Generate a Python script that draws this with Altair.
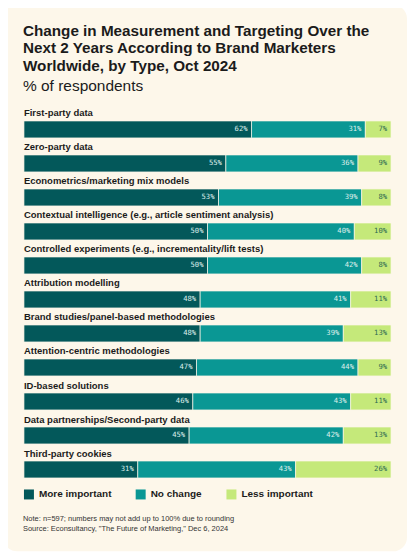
import altair as alt
import pandas as pd

categories = [
    "First-party data",
    "Zero-party data",
    "Econometrics/marketing mix models",
    "Contextual intelligence (e.g., article sentiment analysis)",
    "Controlled experiments (e.g., incrementality/lift tests)",
    "Attribution modelling",
    "Brand studies/panel-based methodologies",
    "Attention-centric methodologies",
    "ID-based solutions",
    "Data partnerships/Second-party data",
    "Third-party cookies",
]
more_important = [62, 55, 53, 50, 50, 48, 48, 47, 46, 45, 31]
no_change = [31, 36, 39, 40, 42, 41, 39, 44, 43, 42, 43]
less_important = [7, 9, 8, 10, 8, 11, 13, 9, 11, 13, 26]
types = ["More important", "No change", "Less important"]
colors = ["#03585A", "#0A9794", "#C5E97A"]

title_lines = [
    "Change in Measurement and Targeting Over the",
    "Next 2 Years According to Brand Marketers",
    "Worldwide, by Type, Oct 2024",
]
subtitle = "% of respondents"
note_lines = [
    "Note: n=597; numbers may not add up to 100% due to rounding",
    'Source: Econsultancy, "The Future of Marketing," Dec 6, 2024',
]

rows = []
for i, c in enumerate(categories):
    for j, (t, vals) in enumerate(zip(types, [more_important, no_change, less_important])):
        rows.append({"category": c, "type": t, "value": vals[i], "order": j})
df = pd.DataFrame(rows)
cat_df = pd.DataFrame({"category": categories})
one = pd.DataFrame({"a": [0]})

CREAM = "#FDF7EA"
INK = "#1B1B1B"
W, H = 368, 375

yenc = alt.Y("category:N", sort=categories, axis=None,
             scale=alt.Scale(paddingInner=0, paddingOuter=0))
xscale = alt.Scale(domain=[0, 100], nice=False, zero=True)

card = alt.Chart(one).mark_rect(color=CREAM, cornerRadius=14).encode(
    x=alt.value(-21), x2=alt.value(W + 16),
    y=alt.value(-108), y2=alt.value(H + 65),
)

title = alt.Chart(one).mark_text(
    text=title_lines, align="left", baseline="alphabetic", font="Liberation Sans",
    fontSize=15.3, fontWeight="bold", lineHeight=17.5, color=INK,
).encode(x=alt.value(-1), y=alt.value(-77))

sub = alt.Chart(one).mark_text(
    text=subtitle, align="left", baseline="alphabetic", font="Liberation Sans",
    fontSize=15.5, color=INK,
).encode(x=alt.value(-1), y=alt.value(-21))

base = alt.Chart(df).transform_stack(
    stack="value", groupby=["category"], as_=["x0", "x1"],
    sort=[alt.SortField("order", order="ascending")],
).transform_calculate(label="datum.value + '%'")

bars = base.mark_bar(height=17, stroke=CREAM, strokeWidth=0.7).encode(
    x=alt.X("x0:Q", scale=xscale, axis=None),
    x2="x1:Q",
    y=yenc,
    color=alt.Color(
        "type:N", sort=types,
        scale=alt.Scale(domain=types, range=colors),
        legend=alt.Legend(
            title=None, orient="none", legendX=0, legendY=H + 3,
            direction="horizontal", symbolType="square", symbolSize=100,
            symbolStrokeWidth=0, symbolOpacity=1, labelFont="Liberation Sans",
            labelFontSize=10, labelFontWeight="bold", labelColor=INK,
            labelOffset=5, columnPadding=24, labelLimit=200,
        ),
    ),
    order=alt.Order("order:Q"),
)

seg_labels = base.mark_text(
    align="right", baseline="middle", dx=-4, font="DejaVu Sans Mono", fontSize=7.2
).encode(
    x=alt.X("x1:Q", scale=xscale),
    y=yenc,
    text="label:N",
    color=alt.condition(alt.datum.type == "Less important",
                        alt.value("#2F6B52"), alt.value("#DDEEEA")),
)

cat_labels = alt.Chart(cat_df).mark_text(
    align="left", baseline="middle", dy=-16, font="Liberation Sans",
    fontSize=9.5, fontWeight="bold", color=INK,
).encode(
    x=alt.value(0),
    y=yenc,
    text="category:N",
)

notes = alt.Chart(one).mark_text(
    text=note_lines, align="left", baseline="top", font="Liberation Sans",
    fontSize=7.5, lineHeight=10, color="#333333",
).encode(x=alt.value(-1), y=alt.value(H + 29))

chart = alt.layer(card, title, sub, bars, seg_labels, cat_labels, notes).properties(
    width=W, height=H,
    autosize=alt.AutoSizeParams(type="none"),
    padding={"left": 16, "top": 104, "right": 16, "bottom": 65},
).configure_view(stroke=None).configure(background="white")

chart.save("out.html", embed_options={"renderer": "svg", "actions": False})
